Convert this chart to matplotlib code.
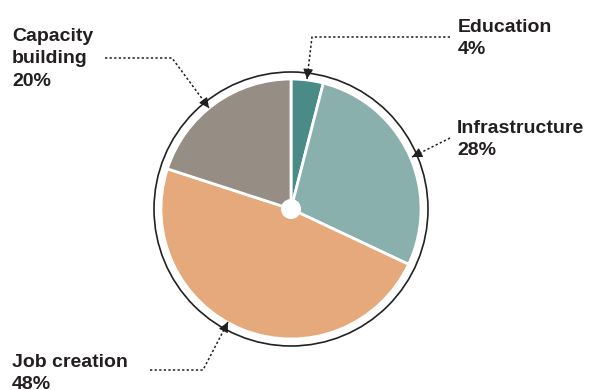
import matplotlib.pyplot as plt
from matplotlib.patches import Circle

labels = ["Education", "Infrastructure", "Job creation", "Capacity\nbuilding"]
shares = [4, 28, 48, 20]
colors = ["#4a8a87", "#8ab0ae", "#e6a97c", "#968d85"]

H = 390  # figure height in px, used to flip y


def fy(y):
    return H - y


fig = plt.figure(figsize=(5.89, 3.90), dpi=100)
ax = fig.add_axes([0, 0, 1, 1])

cx, cy, r = 291, fy(209), 130
ax.pie(shares, colors=colors, startangle=90, counterclock=False,
       center=(cx, cy), radius=r,
       wedgeprops=dict(edgecolor="white", linewidth=2))
ax.add_patch(Circle((cx, cy), 137, fill=False, edgecolor="#222222", lw=1.2))
ax.add_patch(Circle((cx, cy), 10, facecolor="white", edgecolor="none", zorder=5))

# label text: (x, top), leader path ending at the arrow tip
placements = [
    ((458, 19), [(450, 37), (312, 37), (307, 79)]),
    ((457, 120), [(450, 138), (412, 157)]),
    ((12, 354), [(150, 370), (203, 370), (228, 322)]),
    ((12, 28), [(105, 58), (172, 58), (209, 108)]),
]

for lab, val, ((tx, ty), path) in zip(labels, shares, placements):
    ax.text(tx, fy(ty), f"{lab}\n{val}%", ha="left", va="top",
            fontsize=14, fontweight="bold", color="#231f20",
            family="Liberation Sans", linespacing=1.42)
    xs = [p[0] for p in path]
    ys = [fy(p[1]) for p in path]
    ax.plot(xs, ys, color="#231f20", lw=1.1, linestyle=(0, (1.5, 1.5)))
    # solid arrow head on the last segment
    dx, dy = xs[-1] - xs[-2], ys[-1] - ys[-2]
    d = (dx ** 2 + dy ** 2) ** 0.5
    ax.annotate("", xy=(xs[-1], ys[-1]),
                xytext=(xs[-1] - dx / d * 9, ys[-1] - dy / d * 9),
                arrowprops=dict(arrowstyle="-|>,head_length=0.6,head_width=0.3",
                                color="#231f20", lw=0.8, shrinkA=0, shrinkB=0))

ax.set_xlim(0, 589)
ax.set_ylim(0, H)
ax.set_aspect("equal")
ax.axis("off")

fig.savefig("out.png", dpi=100)
